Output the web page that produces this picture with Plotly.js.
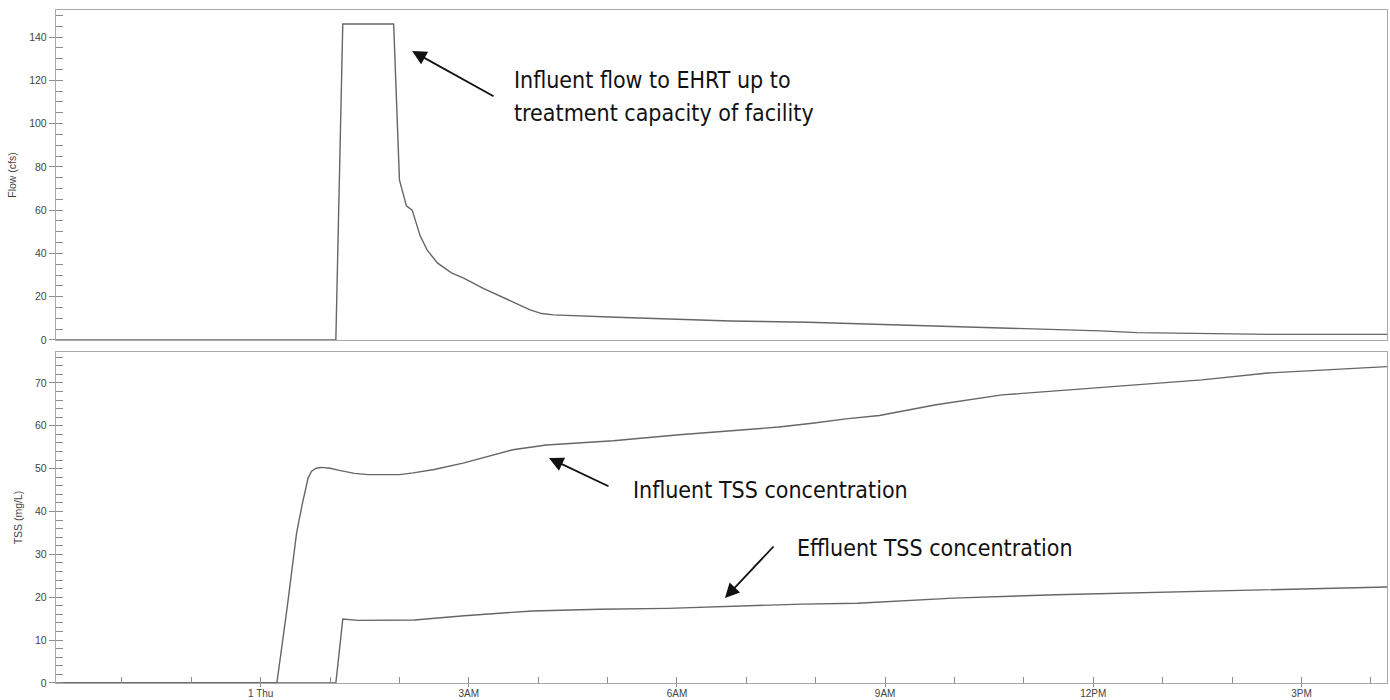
<!DOCTYPE html>
<html>
<head>
<meta charset="utf-8">
<script src="https://cdn.plot.ly/plotly-3.0.1.min.js"></script>
<style>html,body{margin:0;padding:0;background:#fff;}#chart{width:1390px;height:700px;}</style>
</head>
<body>
<div id="chart"></div>
<script>
// ---- Data ----
const flowTime = ["2014-12-31 21:03","2015-01-01 01:05","2015-01-01 01:11","2015-01-01 01:55","2015-01-01 02:00","2015-01-01 02:04","2015-01-01 02:06","2015-01-01 02:11","2015-01-01 02:18","2015-01-01 02:24","2015-01-01 02:33","2015-01-01 02:45","2015-01-01 02:56","2015-01-01 03:12","2015-01-01 03:25","2015-01-01 03:39","2015-01-01 03:53","2015-01-01 04:03","2015-01-01 04:13","2015-01-01 05:08","2015-01-01 05:49","2015-01-01 06:46","2015-01-01 07:53","2015-01-01 08:41","2015-01-01 09:39","2015-01-01 10:40","2015-01-01 12:06","2015-01-01 12:38","2015-01-01 13:24","2015-01-01 13:57","2015-01-01 14:33","2015-01-01 16:14"];
const flowCfs = [0,0,146,146,74,66,62,60,48,41.5,35.5,31,28.5,24,20.8,17,13.9,12.2,11.6,10.5,9.7,8.8,8.2,7.5,6.6,5.6,4.2,3.4,3.2,2.9,2.6,2.6];

const infTime = ["2014-12-31 21:03","2015-01-01 00:14","2015-01-01 00:23","2015-01-01 00:31","2015-01-01 00:36","2015-01-01 00:39","2015-01-01 00:41","2015-01-01 00:44","2015-01-01 00:48","2015-01-01 00:53","2015-01-01 01:00","2015-01-01 01:08","2015-01-01 01:21","2015-01-01 01:33","2015-01-01 02:00","2015-01-01 02:12","2015-01-01 02:30","2015-01-01 02:55","2015-01-01 03:18","2015-01-01 03:38","2015-01-01 04:07","2015-01-01 05:05","2015-01-01 06:02","2015-01-01 07:00","2015-01-01 07:28","2015-01-01 07:57","2015-01-01 08:26","2015-01-01 08:55","2015-01-01 09:44","2015-01-01 10:41","2015-01-01 12:06","2015-01-01 13:34","2015-01-01 14:31","2015-01-01 15:29","2015-01-01 16:14"];
const infTSS = [0,0,17.8,34.9,41.8,45.6,47.8,49.4,50.1,50.3,50.1,49.6,48.9,48.6,48.6,49.0,49.8,51.3,52.9,54.4,55.5,56.5,57.9,59.0,59.7,60.6,61.6,62.4,64.9,67.2,69.0,70.7,72.3,73.2,73.8];

const effTime = ["2014-12-31 21:03","2015-01-01 01:05","2015-01-01 01:11","2015-01-01 01:24","2015-01-01 02:13","2015-01-01 02:56","2015-01-01 03:55","2015-01-01 04:53","2015-01-01 05:52","2015-01-01 06:50","2015-01-01 07:48","2015-01-01 08:36","2015-01-01 09:59","2015-01-01 11:28","2015-01-01 12:58","2015-01-01 14:28","2015-01-01 16:14"];
const effTSS = [0,0,14.9,14.6,14.7,15.7,16.8,17.2,17.4,17.9,18.4,18.6,19.8,20.6,21.2,21.8,22.4];

const tickVals = ["2015-01-01 00:00","2015-01-01 03:00","2015-01-01 06:00","2015-01-01 09:00","2015-01-01 12:00","2015-01-01 15:00"];
const tickText = ["1 Thu","3AM","6AM","9AM","12PM","3PM"];
const xRange = ["2014-12-31 21:03","2015-01-01 16:14"];

const flowTitle = "Flow (cfs)";
const tssTitle = "TSS (mg/L)";
const noteFlow1 = "Influent flow to EHRT up to";
const noteFlow2 = "treatment capacity of facility";
const noteInf = "Influent TSS concentration";
const noteEff = "Effluent TSS concentration";

// ---- Styles ----
const lineCol = "#666666";
const frameCol = "#a9a9a9";
const tickCol = "#8c8c8c";
const labelFont = {family: "Liberation Sans, Arial, sans-serif", size: 10.5, color: "#444"};
const xLabelFont = {family: "Liberation Sans, Arial, sans-serif", size: 10, color: "#444"};
const noteFont = {family: "Liberation Sans Narrow, DejaVu Sans Condensed, sans-serif", size: 23, color: "#111"};

const traces = [
  {x: flowTime, y: flowCfs, xaxis: "x", yaxis: "y", mode: "lines", line: {color: lineCol, width: 1.4}},
  {x: infTime, y: infTSS, xaxis: "x2", yaxis: "y2", mode: "lines", line: {color: lineCol, width: 1.4}},
  {x: effTime, y: effTSS, xaxis: "x2", yaxis: "y2", mode: "lines", line: {color: lineCol, width: 1.4}}
];

const yBase = {
  showline: true, mirror: true, linecolor: frameCol, linewidth: 1.2,
  showgrid: false, zeroline: false, ticks: "outside", ticklen: 6, tickcolor: tickCol, tickwidth: 1,
  tickfont: labelFont, fixedrange: true
};

const layout = {
  width: 1390, height: 700,
  margin: {l: 56, r: 3, t: 10, b: 17},
  paper_bgcolor: "#fff", plot_bgcolor: "#fff",
  showlegend: false,
  xaxis: {domain: [0,1], anchor: "y", type: "date", range: xRange, showline: true, mirror: true,
          linecolor: frameCol, linewidth: 1.2, showgrid: false, zeroline: false, ticks: "", showticklabels: false},
  yaxis: Object.assign({}, yBase, {domain: [0.5097, 1], anchor: "x", range: [0, 152.5], tickmode: "linear", tick0: 0, dtick: 20,
          minor: {ticks: "inside", ticklen: 7, dtick: 5, tick0: 0, tickcolor: tickCol, showgrid: false},
          title: {text: flowTitle, font: labelFont, standoff: 10}}),
  xaxis2: {domain: [0,1], anchor: "y2", type: "date", range: xRange, showline: true, mirror: true,
          linecolor: frameCol, linewidth: 1.2, showgrid: false, zeroline: false,
          tickmode: "array", tickvals: tickVals, ticktext: tickText, ticks: "outside", ticklen: 3, tickcolor: tickCol,
          tickfont: xLabelFont, ticklabelstandoff: -2,
          minor: {ticks: "inside", ticklen: 6, dtick: 3600000, tick0: "2015-01-01 00:00", tickcolor: tickCol, showgrid: false}},
  yaxis2: Object.assign({}, yBase, {domain: [0, 0.4918], anchor: "x2", range: [0, 77.2], tickmode: "linear", tick0: 0, dtick: 10,
          minor: {ticks: "inside", ticklen: 7, dtick: 2, tick0: 0, tickcolor: tickCol, showgrid: false},
          title: {text: tssTitle, font: labelFont, standoff: 10}}),
  annotations: [
    {xref: "paper", yref: "paper", x: 0.2675, y: 0.939, ax: 83, ay: 46, text: "",
     showarrow: true, arrowhead: 2, arrowsize: 1.6, arrowwidth: 1.8, arrowcolor: "#111"},
    {xref: "paper", yref: "paper", x: 0.3704, y: 0.3343, ax: 61, ay: 29, text: "",
     showarrow: true, arrowhead: 2, arrowsize: 1.6, arrowwidth: 1.8, arrowcolor: "#111"},
    {xref: "paper", yref: "paper", x: 0.5026, y: 0.1263, ax: 50, ay: -53, text: "",
     showarrow: true, arrowhead: 2, arrowsize: 1.6, arrowwidth: 1.8, arrowcolor: "#111"},
    {xref: "paper", yref: "paper", x: 0.3426, y: 0.896, xanchor: "left", yanchor: "middle", text: noteFlow1, showarrow: false, font: noteFont},
    {xref: "paper", yref: "paper", x: 0.3426, y: 0.847, xanchor: "left", yanchor: "middle", text: noteFlow2, showarrow: false, font: noteFont},
    {xref: "paper", yref: "paper", x: 0.432, y: 0.2868, xanchor: "left", yanchor: "middle", text: noteInf, showarrow: false, font: noteFont},
    {xref: "paper", yref: "paper", x: 0.5552, y: 0.2006, xanchor: "left", yanchor: "middle", text: noteEff, showarrow: false, font: noteFont}
  ]
};

Plotly.newPlot("chart", traces, layout, {staticPlot: true, displayModeBar: false});
</script>
</body>
</html>
